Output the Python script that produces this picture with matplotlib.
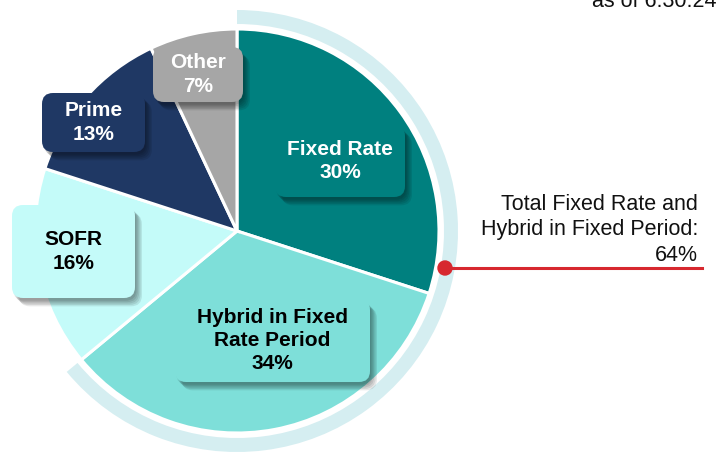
import numpy as np
import matplotlib.pyplot as plt
from matplotlib.patches import Wedge, FancyBboxPatch, Circle
import matplotlib.patheffects as pe

plt.rcParams['font.family'] = ['Liberation Sans', 'DejaVu Sans']

# data
labels = ['Fixed Rate', 'Hybrid in Fixed\nRate Period', 'SOFR', 'Prime', 'Other']
shares = [30, 34, 16, 13, 7]
colors = ['#00807F', '#7EDFD9', '#C4FBF9', '#1F3864', '#A6A6A6']
text_colors = ['white', 'black', 'black', 'white', 'white']
fixed_total = shares[0] + shares[1]
as_of = 'as of 6.30.24'

# layout (pixel coords, y measured from top of the image)
W, H = 721, 462
cx, cy, R = 237, 231, 202
boxes = [(275, 125, 405, 197), (175, 299, 370, 382), (12, 205, 135, 298),
         (42, 93, 145, 152), (153, 47, 243, 102)]

fig = plt.figure(figsize=(W / 100, H / 100), dpi=100)
ax = fig.add_axes([0, 0, 1, 1])

ax.pie(shares, colors=colors, startangle=90, counterclock=False,
       center=(cx, H - cy), radius=R,
       wedgeprops=dict(edgecolor='white', linewidth=2.2))

# outer arc around fixed-rate exposure
span = 360 * fixed_total / sum(shares)
ax.add_patch(Wedge((cx, H - cy), 221, 90 - span, 90, width=14,
                   facecolor='#D5EEF1', edgecolor='none'))

# label boxes, soft-ish shadow built from a few faint layers
shadow = [pe.SimplePatchShadow(offset=(o, -o - 1), shadow_rgbFace='black', alpha=0.09)
          for o in (1, 2, 3, 4, 5)] + [pe.Normal()]
for lab, val, col, tc, (x0, y0, x1, y1) in zip(labels, shares, colors, text_colors, boxes):
    box = FancyBboxPatch((x0, H - y1), x1 - x0, y1 - y0,
                         boxstyle='round,pad=0,rounding_size=11',
                         facecolor=col, edgecolor='none', zorder=3)
    box.set_path_effects(shadow)
    ax.add_patch(box)
    ax.text((x0 + x1) / 2, H - (y0 + y1) / 2, f'{lab}\n{val}%', ha='center', va='center',
            fontsize=15, fontweight='bold', color=tc, linespacing=1.28, zorder=4)

# annotation on the right
ax.plot([445, 702], [H - 268, H - 268], color='#D7282F', lw=2.2, zorder=5)
ax.add_patch(Circle((445, H - 268), 7, color='#D7282F', zorder=6))
ax.text(698, H - 194, f'Total Fixed Rate and\nHybrid in Fixed Period:\n{fixed_total}%',
        ha='right', va='top', fontsize=15.5, color='#111111', linespacing=1.28)

ax.text(716, H - 7, as_of, ha='right', va='baseline', fontsize=15.5, color='#111111')

ax.set_xlim(0, W)
ax.set_ylim(0, H)
ax.set_aspect('equal')
ax.axis('off')

fig.savefig('out.png', dpi=100)
